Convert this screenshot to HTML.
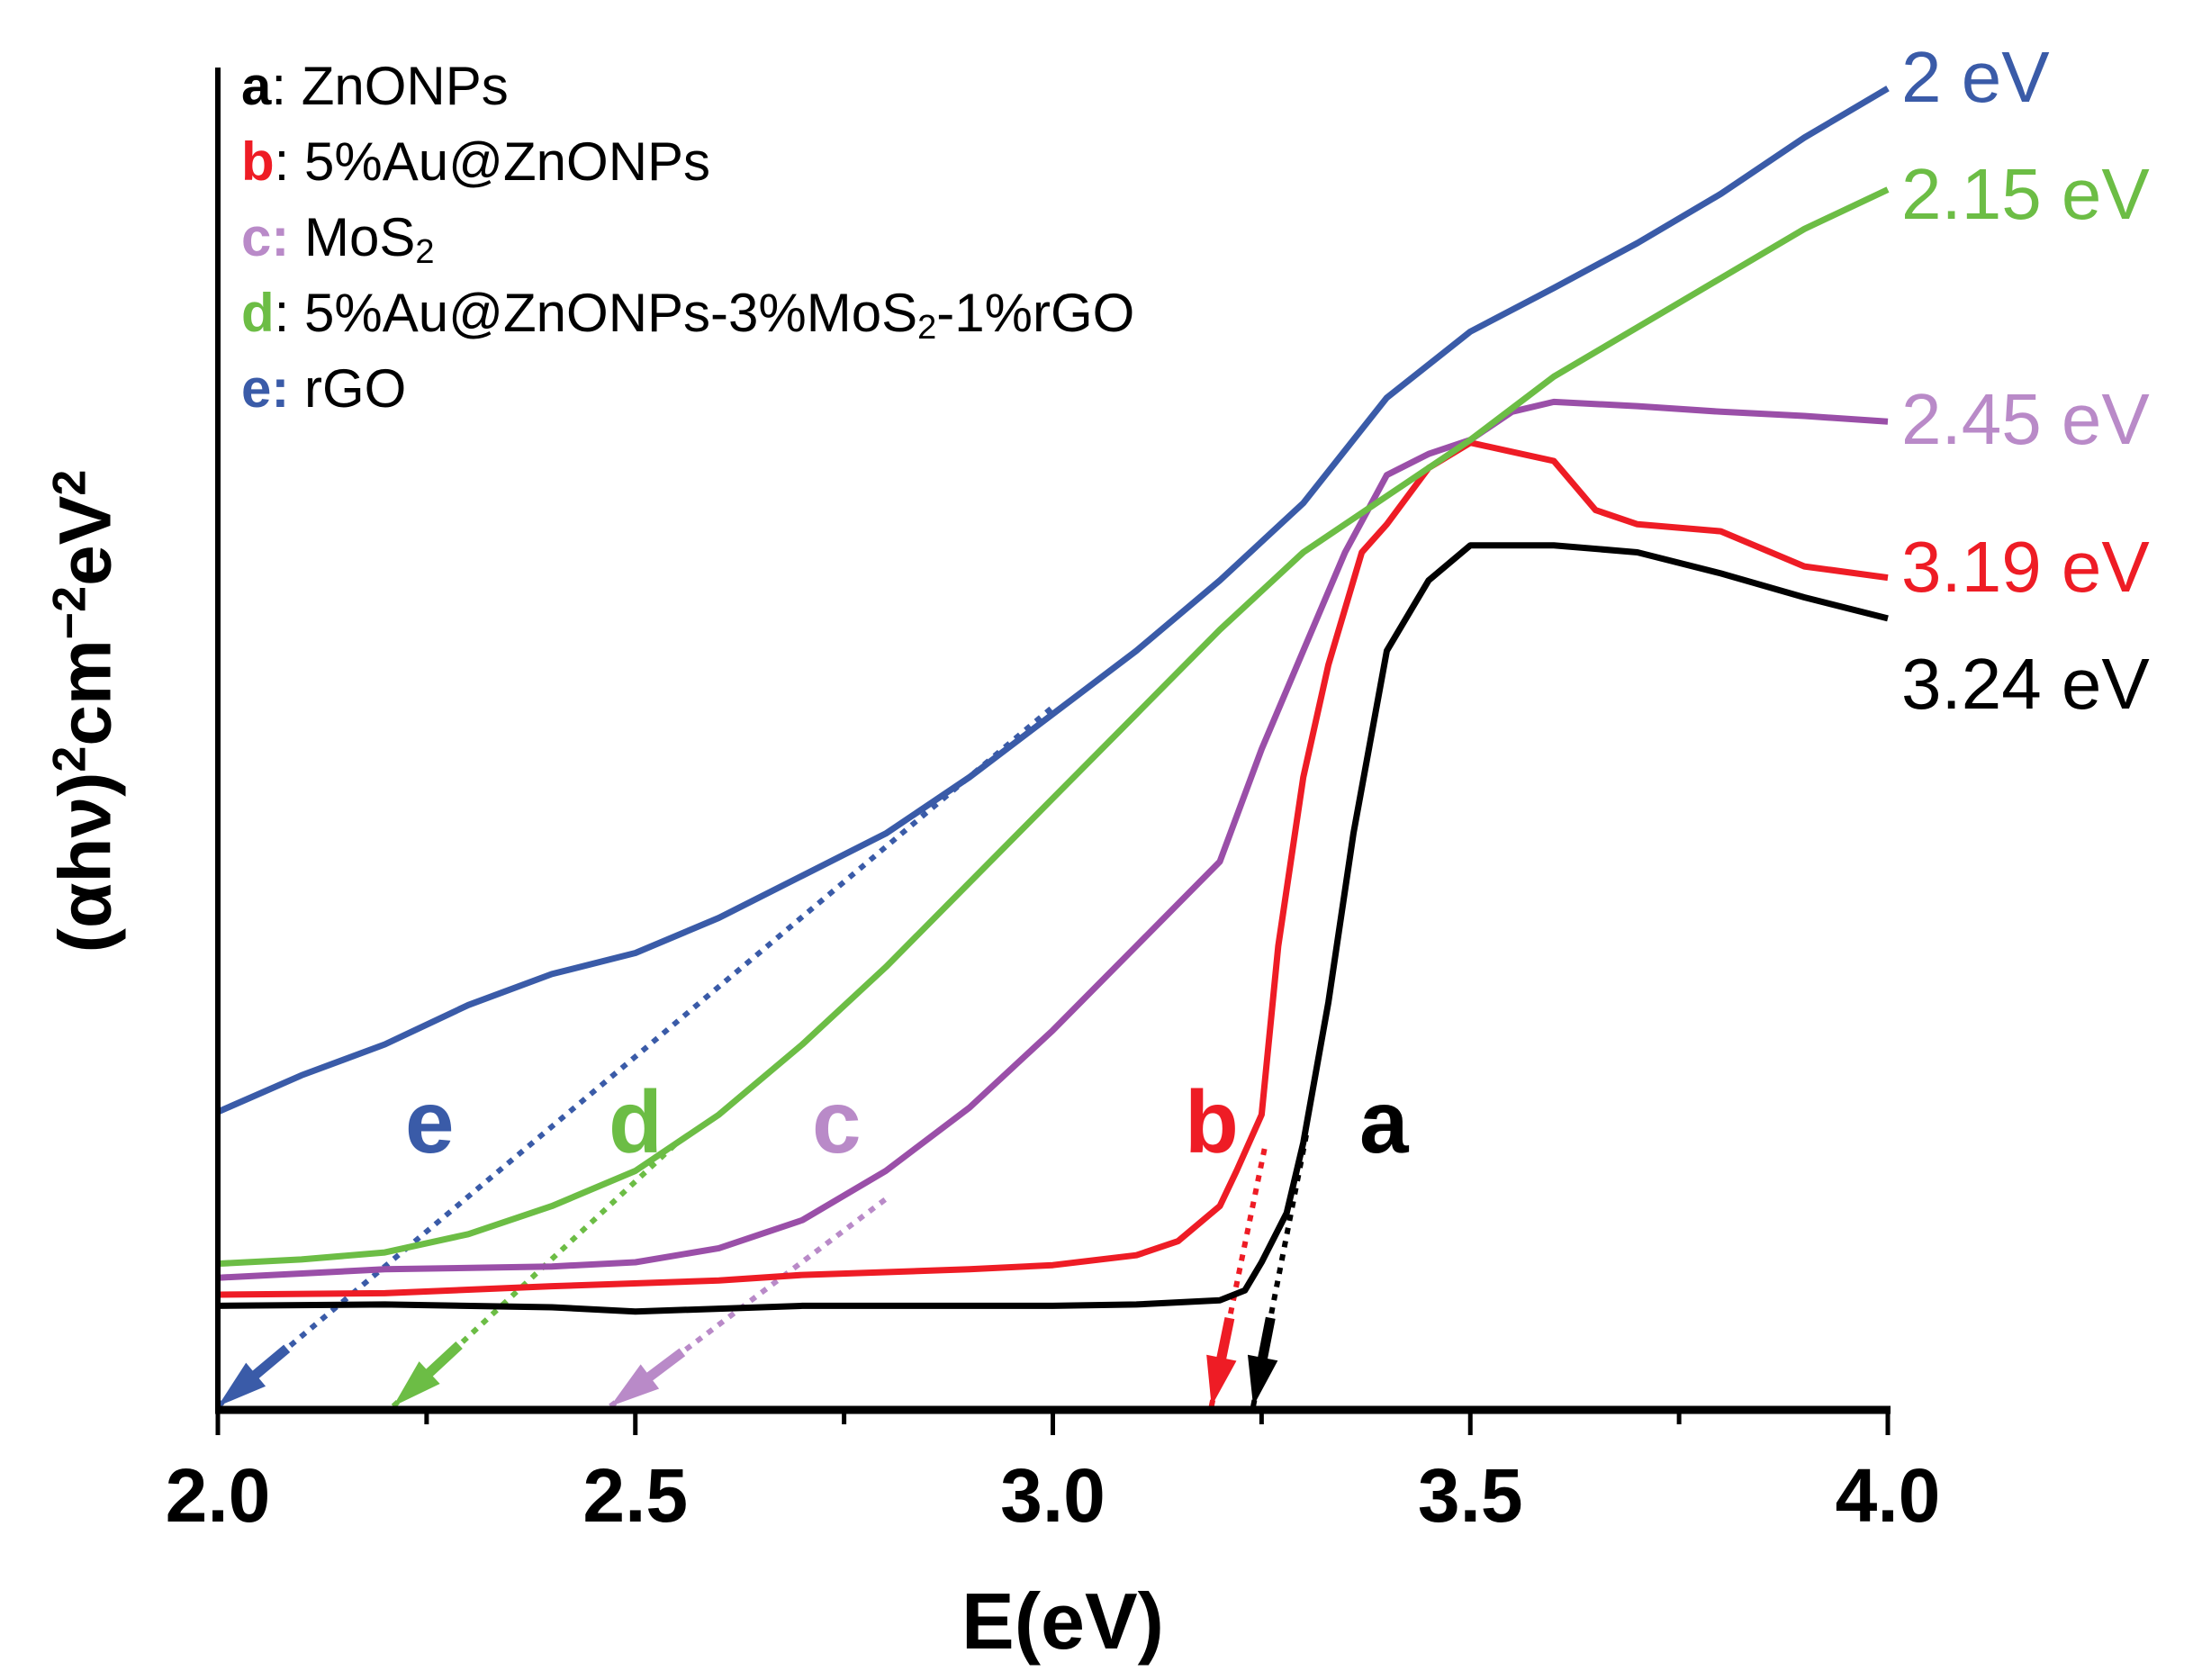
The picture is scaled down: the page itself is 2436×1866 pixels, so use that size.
<!DOCTYPE html>
<html><head><meta charset="utf-8"><style>
html,body{margin:0;padding:0;background:#fff;}
svg{display:block;}
.lg div{height:84px;white-space:nowrap;}
.lg sub{font-size:38px;position:relative;top:8px;vertical-align:baseline;}
</style></head><body>
<svg id="chart" width="2436" height="1866" viewBox="0 0 2436 1866" xmlns="http://www.w3.org/2000/svg" font-family="'Liberation Sans', sans-serif"></svg>
<script>
// ---- data (y in arbitrary units, from image) ----
const xE = [2.0,2.1,2.2,2.3,2.4,2.5,2.6,2.7,2.8,2.9,3.0,3.1,3.2,3.3,3.4,3.5,3.6,3.7,3.8,3.9,4.0];
const eVals = [212,238,260,288,310,325,350,380,410,450,495,540,590,645,720,767,798,830,865,905,940];
const dX = [2.0,2.1,2.2,2.3,2.4,2.5,2.6,2.7,2.8,2.9,3.0,3.1,3.2,3.3,3.4,3.5,3.6,3.7,3.8,3.9,4.0];
const dVals = [104,107,112,125,145,170,210,260,315,375,435,495,555,610,650,690,735,770,805,840,868];
const cX = [2.0,2.2,2.4,2.5,2.6,2.7,2.8,2.9,3.0,3.1,3.2,3.25,3.3,3.35,3.4,3.45,3.5,3.55,3.6,3.7,3.8,3.9,4.0];
const cVals = [94,100,102,105,115,135,170,215,270,330,390,470,540,610,665,680,690,710,717,714,710,707,703];
const bX = [2.0,2.2,2.4,2.6,2.7,2.8,2.9,3.0,3.1,3.15,3.2,3.22,3.25,3.27,3.3,3.33,3.37,3.4,3.45,3.5,3.6,3.65,3.7,3.8,3.9,4.0];
const bVals = [82,83,88,92,96,98,100,103,110,120,145,170,210,330,450,530,610,630,670,688,675,640,630,625,600,592];
const aX = [2.0,2.2,2.4,2.5,2.6,2.7,2.8,2.9,3.0,3.1,3.2,3.23,3.25,3.28,3.3,3.33,3.36,3.4,3.45,3.5,3.6,3.7,3.8,3.9,4.0];
const aVals = [74,75,73,70,72,74,74,74,74,75,78,85,105,140,190,290,410,540,590,615,615,610,595,578,563];
// extrapolation lines: [x-intercept, x-end, y-end]
const fitIntercepts = [2.0,2.21,2.47,3.19,3.24];
const fitEndX = [3.0,2.55,2.8,3.255,3.305];
const fitEndY = [500,190,150,190,200];
const xTicks = [2.0,2.5,3.0,3.5,4.0];
const xTickLabels = ["2.0","2.5","3.0","3.5","4.0"];

const X0=242, X1=2097, Y0=1566, K=1.5615;
const sx = e => X0 + (e-2)/(4-2)*(X1-X0);
const sy = v => Y0 - v*K;
const svg = document.getElementById('chart');
const NS='http://www.w3.org/2000/svg';
function mk(t,attrs,parent){const el=document.createElementNS(NS,t);for(const k in attrs)el.setAttribute(k,attrs[k]);(parent||svg).appendChild(el);return el;}

const series = [
 {name:'curve-a-znonps',x:aX,y:aVals,c:'#000000'},
 {name:'curve-b-au-znonps',x:bX,y:bVals,c:'#ee1c25'},
 {name:'curve-c-mos2',x:cX,y:cVals,c:'#9a4fa8'},
 {name:'curve-d-composite',x:dX,y:dVals,c:'#6cbd45'},
 {name:'curve-e-rgo',x:xE,y:eVals,c:'#3a5ba8'}
];
const fitColors=['#3a5ba8','#6cbd45','#b98ac8','#ee1c25','#000000'];
const fitNames=['fit-e','fit-d','fit-c','fit-b','fit-a'];

for(let i=0;i<fitIntercepts.length;i++){
 const x1=sx(fitIntercepts[i]),y1=Y0-4,x2=sx(fitEndX[i]),y2=sy(fitEndY[i]);
 const l=mk('line',{x1:x1,y1:y1,x2:x2,y2:y2,stroke:fitColors[i],'stroke-width':6,'stroke-dasharray':'7 8'});
 
 
 const dx=x2-x1,dy=y2-y1,L=Math.hypot(dx,dy),ux=dx/L,uy=dy/L;
 const ax=x1+ux*100, ay=y1+uy*100;
 const sh=mk('line',{x1:x1+ux*30,y1:y1+uy*30,x2:ax,y2:ay,stroke:fitColors[i],'stroke-width':11});
 
 
 const px=-uy,py=ux,hb=x1+ux*55,hy=y1+uy*55;
 const head=mk('polygon',{points:`${x1},${y1} ${hb+px*17},${hy+py*17} ${hb-px*17},${hy-py*17}`,fill:fitColors[i]});
 
 
}
series.forEach(s=>{
 const d=s.x.map((e,i)=>(i?'L':'M')+sx(e).toFixed(1)+','+sy(s.y[i]).toFixed(1)).join(' ');
 const p=mk('path',{d:d,fill:'none',stroke:s.c,'stroke-width':7,'stroke-linejoin':'round'});
 
 
});
const ya=mk('line',{x1:X0,y1:75,x2:X0,y2:Y0+4,stroke:'#000','stroke-width':6});


const xa=mk('line',{x1:X0-3,y1:Y0,x2:X1+3,y2:Y0,stroke:'#000','stroke-width':9});


for(let e=2;e<=4.001;e+=0.25){
 const major=Math.abs(e*2-Math.round(e*2))<1e-6;
 const t=mk('line',{x1:sx(e),y1:Y0,x2:sx(e),y2:Y0+(major?28:16),stroke:'#000','stroke-width':5});
 
 
}
xTicks.forEach((e,i)=>{
 const t=mk('text',{x:sx(e),y:1690,'text-anchor':'middle','font-size':84,'font-weight':'bold',fill:'#000'});
 t.textContent=xTickLabels[i];
 
 
});
</script>
<div style="position:absolute;left:0;top:0;width:2436px;height:1866px;pointer-events:none;font-family:'Liberation Sans',sans-serif;">
 <div style="position:absolute;left:1068px;top:1750px;font-size:88px;font-weight:bold;">E(eV)</div>
 <div style="position:absolute;left:95px;top:790px;transform:translate(-50%,-50%) rotate(-90deg);white-space:nowrap;font-size:82px;font-weight:bold;">(&alpha;h&nu;)<sup style="font-size:52px">2</sup>cm<sup style="font-size:52px">&minus;2</sup>eV<sup style="font-size:52px">2</sup></div>
 <div class="lg" style="position:absolute;left:268px;top:54px;font-size:60px;line-height:84px;">
  <div><b style="color:#000">a</b>: ZnONPs</div>
  <div><b style="color:#ee1c25">b</b>: 5%Au@ZnONPs</div>
  <div><b style="color:#b98ac8">c:</b> MoS<sub>2</sub></div>
  <div><b style="color:#6cbd45">d</b>: 5%Au@ZnONPs-3%MoS<sub>2</sub>-1%rGO</div>
  <div><b style="color:#3a5ba8">e:</b> rGO</div>
 </div>
 <div style="position:absolute;left:2112px;top:40px;font-size:80px;color:#3a5ba8;">2 eV</div>
 <div style="position:absolute;left:2112px;top:170px;font-size:80px;color:#6cbd45;">2.15 eV</div>
 <div style="position:absolute;left:2112px;top:420px;font-size:80px;color:#b98ac8;">2.45 eV</div>
 <div style="position:absolute;left:2112px;top:584px;font-size:80px;color:#ee1c25;">3.19 eV</div>
 <div style="position:absolute;left:2112px;top:714px;font-size:80px;color:#000;">3.24 eV</div>
 <div style="position:absolute;left:450px;top:1190px;font-size:98px;font-weight:bold;color:#3a5ba8;">e</div>
 <div style="position:absolute;left:676px;top:1190px;font-size:98px;font-weight:bold;color:#6cbd45;">d</div>
 <div style="position:absolute;left:902px;top:1190px;font-size:98px;font-weight:bold;color:#b98ac8;">c</div>
 <div style="position:absolute;left:1316px;top:1190px;font-size:98px;font-weight:bold;color:#ee1c25;">b</div>
 <div style="position:absolute;left:1510px;top:1190px;font-size:98px;font-weight:bold;color:#000;">a</div>
</div>
</body></html>
